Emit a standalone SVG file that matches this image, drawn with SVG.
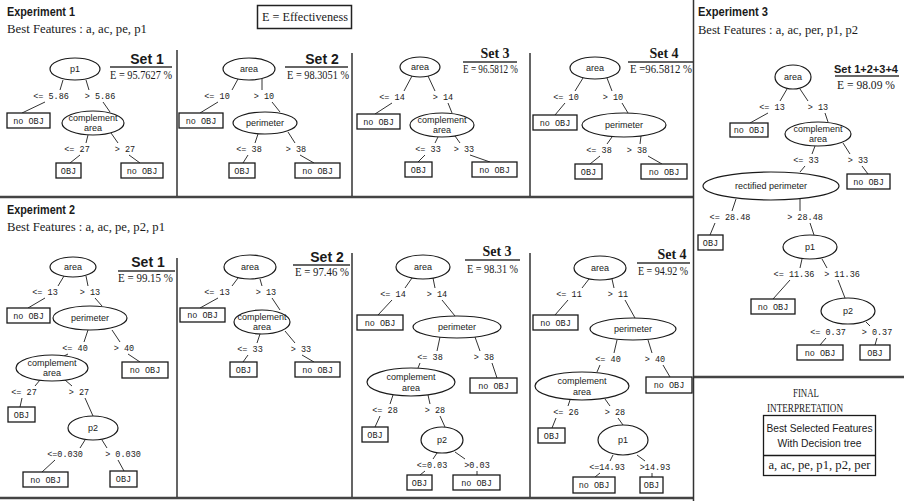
<svg xmlns="http://www.w3.org/2000/svg" width="904" height="501" viewBox="0 0 904 501">
<style>
text{fill:#1a1a1a}
.ttl{font-family:"Liberation Sans",Arial,sans-serif;font-weight:bold;font-size:13px}
.bf{font-family:"Liberation Serif","Times New Roman",serif;font-size:13px}
.set{font-family:"Liberation Sans",Arial,sans-serif;font-weight:bold;font-size:14px;text-anchor:middle}
.sets{font-family:"Liberation Serif","Times New Roman",serif;font-weight:bold;font-size:14px;text-anchor:middle}
.ev{font-family:"Liberation Serif","Times New Roman",serif;font-size:12px}
.lb{font-family:"Liberation Mono","DejaVu Sans Mono",monospace;font-size:8.5px;text-anchor:middle}
.nt{font-family:"Liberation Sans",Arial,sans-serif;font-size:9px;text-anchor:middle}
.bx{fill:#fff;stroke:#1a1a1a;stroke-width:1.3}
.el{fill:#fff;stroke:#1a1a1a;stroke-width:1.2}
.cn{fill:none;stroke:#333;stroke-width:1}
.fr{stroke:#333;stroke-width:1.5;fill:none}
.fr2{stroke:#444;stroke-width:2.5;fill:none}
.fin{font-family:"Liberation Serif","Times New Roman",serif;font-size:12px;text-anchor:middle}
.fs{font-family:"Liberation Sans",Arial,sans-serif;font-size:11px;text-anchor:middle}
</style>
<rect width="904" height="501" fill="#fff"/>

<g id="frames">
<path class="fr2" d="M0,197H693M0,498H693M693,377H904"/>
<path class="fr" d="M693.5,0V501"/>
<path class="fr" d="M177,50V196M352,53V196M530,53V196M177,258V497M352,253V497M530,253V497"/>
</g>

<g id="headers">
<text class="ttl" x="7" y="16" textLength="68" lengthAdjust="spacingAndGlyphs">Experiment 1</text>
<text class="bf" x="7" y="33" textLength="140" lengthAdjust="spacingAndGlyphs">Best Features : a, ac, pe, p1</text>
<text class="ttl" x="7" y="214" textLength="68" lengthAdjust="spacingAndGlyphs">Experiment 2</text>
<text class="bf" x="7" y="231" textLength="158" lengthAdjust="spacingAndGlyphs">Best Features : a, ac, pe, p2, p1</text>
<text class="ttl" x="698" y="16" textLength="70" lengthAdjust="spacingAndGlyphs">Experiment 3</text>
<text class="bf" x="698" y="34" textLength="160" lengthAdjust="spacingAndGlyphs">Best Features : a, ac, per, p1, p2</text>
<g id="legend">
<rect x="257.5" y="5.5" width="94" height="23" fill="#fff" stroke="#222" stroke-width="1.5"/>
<text class="ev" x="262" y="21" textLength="86" lengthAdjust="spacingAndGlyphs">E = Effectiveness</text>
</g>
</g>

<g id="sets">
<text class="set" x="147" y="64">Set 1</text><path class="fr" d="M110,67H172"/><text class="ev" x="110" y="79" textLength="62" lengthAdjust="spacingAndGlyphs">E = 95.7627 %</text>
<text class="set" x="322" y="64">Set 2</text><path class="fr" d="M285,67H348"/><text class="ev" x="287" y="79" textLength="62" lengthAdjust="spacingAndGlyphs">E = 98.3051 %</text>
<text class="sets" x="495" y="58">Set 3</text><path class="fr" d="M463,62H517"/><text class="ev" x="463" y="73" font-size="11" textLength="55" lengthAdjust="spacingAndGlyphs">E = 96.5812 %</text>
<text class="sets" x="664" y="58">Set 4</text><path class="fr" d="M628,62H693"/><text class="ev" x="630" y="73" font-size="11" textLength="62" lengthAdjust="spacingAndGlyphs">E =96.5812 %</text>
<text class="set" x="866" y="73" style="font-size:11px">Set 1+2+3+4</text><path class="fr" d="M835,76H899"/><text class="ev" x="837" y="89" textLength="58" lengthAdjust="spacingAndGlyphs">E = 98.09 %</text>
<text class="set" x="148" y="267">Set 1</text><path class="fr" d="M118,271H175"/><text class="ev" x="118" y="282" textLength="55" lengthAdjust="spacingAndGlyphs">E = 99.15 %</text>
<text class="set" x="327" y="262">Set 2</text><path class="fr" d="M293,265H350"/><text class="ev" x="295" y="276" textLength="54" lengthAdjust="spacingAndGlyphs">E = 97.46 %</text>
<text class="sets" x="497" y="256">Set 3</text><path class="fr" d="M465,260H520"/><text class="ev" x="467" y="273" textLength="51" lengthAdjust="spacingAndGlyphs">E = 98.31 %</text>
<text class="sets" x="672" y="259">Set 4</text><path class="fr" d="M637,263H690"/><text class="ev" x="638" y="275" textLength="50" lengthAdjust="spacingAndGlyphs">E = 94.92 %</text>
</g>

<g id="connectors">
<path class="cn" d="M63,80L60,90M45,102L22,113M86,80L89,90M103,102L110,112M88,135L86,143M80,155L70,163M111,133L118,143M129,155L140,163"/>
<path class="cn" d="M238,79L232,90M218,102L200,113M262,79L262,90M272,102L280,112M258,134L255,143M248,155L243,163M288,132L295,143M300,155L314,163"/>
<path class="cn" d="M412,76L404,91M392,103L375,114M428,76L435,91M448,103L452,113M438,137L435,143M425,155L418,162M455,136L460,143M470,155L490,162"/>
<path class="cn" d="M583,78L575,91M565,103L555,115M607,78L612,91M622,103L628,113M612,137L607,144M600,156L590,164M641,136L640,144M648,156L662,164"/>
<path class="cn" d="M787,89L780,101M768,113L750,123M800,89L808,101M825,113L828,122M815,146L812,154M805,166L800,172M843,143L850,154M862,166L868,174M736,199L732,211M715,223L710,235M800,199L800,211M810,223L814,235M802,259L800,268M790,280L773,299M822,259L827,268M838,280L845,298M826,338L820,345M866,322L870,326M877,338L875,345"/>
<path class="cn" d="M64,276L58,286M45,298L28,308M86,276L88,286M95,298L102,306M88,330L84,342M68,354L64,356M112,330L120,342M128,354L140,362M40,380L35,386M22,398L20,407M65,380L72,386M85,398L93,416M85,440L80,448M55,460L42,472M102,440L107,448M118,460L124,471"/>
<path class="cn" d="M238,278L232,286M218,298L200,308M260,279L262,286M272,298L280,310M260,334L257,343M248,355L243,362M285,331L295,343M302,355L314,362"/>
<path class="cn" d="M412,278L405,288M392,300L378,315M433,278L435,288M442,300L455,316M440,337L437,351M420,363L418,368M475,337L480,351M492,363L497,378M393,395L390,404M380,416L375,427M428,395L430,404M440,416L445,427M437,453L433,459M425,471L420,475M455,452L465,459M477,471L477,475"/>
<path class="cn" d="M589,279L582,288M568,300L555,315M612,279L614,288M625,300L635,318M617,340L614,353M600,365L597,372M648,340L652,353M663,365L670,377M570,400L568,406M556,418L552,428M605,399L610,406M618,418L623,425M613,455L610,461M600,473L595,477M637,455L645,461M652,473L652,477"/>
<text class="lb" x="51" y="99">&lt;= 5.86</text><text class="lb" x="100" y="99">&gt; 5.86</text>
<text class="lb" x="77" y="152">&lt;= 27</text><text class="lb" x="125" y="152">&gt; 27</text>
<text class="lb" x="217" y="99">&lt;= 10</text><text class="lb" x="264" y="99">&gt; 10</text>
<text class="lb" x="249" y="152">&lt;= 38</text><text class="lb" x="296" y="152">&gt; 38</text>
<text class="lb" x="392" y="100">&lt;= 14</text><text class="lb" x="443" y="100">&gt; 14</text>
<text class="lb" x="428" y="152">&lt;= 33</text><text class="lb" x="464" y="152">&gt; 33</text>
<text class="lb" x="566" y="100">&lt;= 10</text><text class="lb" x="613" y="100">&gt; 10</text>
<text class="lb" x="599" y="153">&lt;= 38</text><text class="lb" x="637" y="153">&gt; 38</text>
<text class="lb" x="772" y="110">&lt;= 13</text><text class="lb" x="818" y="110">&gt; 13</text>
<text class="lb" x="806" y="163">&lt;= 33</text><text class="lb" x="858" y="163">&gt; 33</text>
<text class="lb" x="730" y="220">&lt;= 28.48</text><text class="lb" x="805" y="220">&gt; 28.48</text>
<text class="lb" x="794" y="277">&lt;= 11.36</text><text class="lb" x="842" y="277">&gt; 11.36</text>
<text class="lb" x="828" y="335">&lt;= 0.37</text><text class="lb" x="877" y="335">&gt; 0.37</text>
<text class="lb" x="45" y="295">&lt;= 13</text><text class="lb" x="90" y="295">&gt; 13</text>
<text class="lb" x="75" y="351">&lt;= 40</text><text class="lb" x="124" y="351">&gt; 40</text>
<text class="lb" x="24" y="395">&lt;= 27</text><text class="lb" x="79" y="395">&gt; 27</text>
<text class="lb" x="65" y="457">&lt;=0.030</text><text class="lb" x="123" y="457">&gt; 0.030</text>
<text class="lb" x="217" y="295">&lt;= 13</text><text class="lb" x="266" y="295">&gt; 13</text>
<text class="lb" x="250" y="352">&lt;= 33</text><text class="lb" x="301" y="352">&gt; 33</text>
<text class="lb" x="393" y="297">&lt;= 14</text><text class="lb" x="437" y="297">&gt; 14</text>
<text class="lb" x="430" y="360">&lt;= 38</text><text class="lb" x="484" y="360">&gt; 38</text>
<text class="lb" x="385" y="413">&lt;= 28</text><text class="lb" x="435" y="413">&gt; 28</text>
<text class="lb" x="432" y="468">&lt;=0.03</text><text class="lb" x="477" y="468">&gt;0.03</text>
<text class="lb" x="569" y="297">&lt;= 11</text><text class="lb" x="618" y="297">&gt; 11</text>
<text class="lb" x="608" y="362">&lt;= 40</text><text class="lb" x="655" y="362">&gt; 40</text>
<text class="lb" x="566" y="415">&lt;= 26</text><text class="lb" x="615" y="415">&gt; 28</text>
<text class="lb" x="607" y="470">&lt;=14.93</text><text class="lb" x="655" y="470">&gt;14.93</text>
</g>

<!-- Experiment 1 Set 1 -->
<g id="e1s1-p1"><ellipse class="el" cx="75" cy="69" rx="25" ry="11"/><text class="nt" x="75" y="72">p1</text></g>
<g id="e1s1-leaf1"><rect class="bx" x="7" y="113" width="43" height="15"/><text class="lb" x="28.5" y="124">no OBJ</text></g>
<g id="e1s1-ca"><ellipse class="el" cx="93" cy="123" rx="31" ry="12"/><text class="nt" x="93" y="121">complement</text><text class="nt" x="93" y="131">area</text></g>
<g id="e1s1-leaf2"><rect class="bx" x="56" y="163" width="25" height="15"/><text class="lb" x="68.5" y="174">OBJ</text></g>
<g id="e1s1-leaf3"><rect class="bx" x="121" y="163" width="42" height="15"/><text class="lb" x="142" y="174">no OBJ</text></g>

<!-- Experiment 1 Set 2 -->
<g id="e1s2-area"><ellipse class="el" cx="249" cy="69" rx="26" ry="11"/><text class="nt" x="249" y="72">area</text></g>
<g id="e1s2-leaf1"><rect class="bx" x="179" y="113" width="44" height="15"/><text class="lb" x="201" y="124">no OBJ</text></g>
<g id="e1s2-per"><ellipse class="el" cx="265" cy="123" rx="32" ry="11"/><text class="nt" x="265" y="126">perimeter</text></g>
<g id="e1s2-leaf2"><rect class="bx" x="229" y="163" width="26" height="15"/><text class="lb" x="242" y="174">OBJ</text></g>
<g id="e1s2-leaf3"><rect class="bx" x="295" y="163" width="45" height="15"/><text class="lb" x="317.5" y="174">no OBJ</text></g>

<!-- Experiment 1 Set 3 -->
<g id="e1s3-area"><ellipse class="el" cx="420" cy="67" rx="20" ry="10"/><text class="nt" x="420" y="70">area</text></g>
<g id="e1s3-leaf1"><rect class="bx" x="357" y="114" width="43" height="15"/><text class="lb" x="378.5" y="125">no OBJ</text></g>
<g id="e1s3-ca"><ellipse class="el" cx="442" cy="125" rx="32" ry="12"/><text class="nt" x="442" y="123">complement</text><text class="nt" x="442" y="133">area</text></g>
<g id="e1s3-leaf2"><rect class="bx" x="405" y="162" width="27" height="15"/><text class="lb" x="418.5" y="173">OBJ</text></g>
<g id="e1s3-leaf3"><rect class="bx" x="472" y="162" width="45" height="15"/><text class="lb" x="494.5" y="173">no OBJ</text></g>

<!-- Experiment 1 Set 4 -->
<g id="e1s4-area"><ellipse class="el" cx="595" cy="68" rx="25" ry="11"/><text class="nt" x="595" y="71">area</text></g>
<g id="e1s4-leaf1"><rect class="bx" x="533" y="115" width="44" height="15"/><text class="lb" x="555" y="126">no OBJ</text></g>
<g id="e1s4-per"><ellipse class="el" cx="624" cy="125" rx="42" ry="12"/><text class="nt" x="624" y="128">perimeter</text></g>
<g id="e1s4-leaf2"><rect class="bx" x="575" y="164" width="27" height="15"/><text class="lb" x="588.5" y="175">OBJ</text></g>
<g id="e1s4-leaf3"><rect class="bx" x="641" y="164" width="46" height="15"/><text class="lb" x="664" y="175">no OBJ</text></g>

<!-- Experiment 3 -->
<g id="e3-area"><ellipse class="el" cx="793" cy="77" rx="18" ry="12"/><text class="nt" x="793" y="80">area</text></g>
<g id="e3-leaf1"><rect class="bx" x="730" y="123" width="38" height="14"/><text class="lb" x="749" y="133">no OBJ</text></g>
<g id="e3-ca"><ellipse class="el" cx="818" cy="134" rx="33" ry="12"/><text class="nt" x="818" y="132">complement</text><text class="nt" x="818" y="142">area</text></g>
<g id="e3-leaf2"><rect class="bx" x="847" y="174" width="43" height="15"/><text class="lb" x="868.5" y="185">no OBJ</text></g>
<g id="e3-rp"><ellipse class="el" cx="771" cy="186" rx="68" ry="14"/><text class="nt" x="771" y="189">rectified perimeter</text></g>
<g id="e3-leaf3"><rect class="bx" x="698" y="235" width="25" height="15"/><text class="lb" x="710.5" y="246">OBJ</text></g>
<g id="e3-p1"><ellipse class="el" cx="810" cy="247" rx="27" ry="12"/><text class="nt" x="810" y="250">p1</text></g>
<g id="e3-leaf4"><rect class="bx" x="751" y="299" width="44" height="15"/><text class="lb" x="773" y="310">no OBJ</text></g>
<g id="e3-p2"><ellipse class="el" cx="848" cy="311" rx="27" ry="13"/><text class="nt" x="848" y="314">p2</text></g>
<g id="e3-leaf5"><rect class="bx" x="797" y="345" width="46" height="15"/><text class="lb" x="820" y="356">no OBJ</text></g>
<g id="e3-leaf6"><rect class="bx" x="860" y="345" width="30" height="15"/><text class="lb" x="875" y="356">OBJ</text></g>

<!-- Experiment 2 Set 1 -->
<g id="e2s1-area"><ellipse class="el" cx="73" cy="267" rx="23" ry="10"/><text class="nt" x="73" y="270">area</text></g>
<g id="e2s1-leaf1"><rect class="bx" x="7" y="308" width="43" height="15"/><text class="lb" x="28.5" y="319">no OBJ</text></g>
<g id="e2s1-per"><ellipse class="el" cx="90" cy="318" rx="37" ry="12"/><text class="nt" x="90" y="321">perimeter</text></g>
<g id="e2s1-leaf2"><rect class="bx" x="122" y="362" width="46" height="16"/><text class="lb" x="145" y="373">no OBJ</text></g>
<g id="e2s1-ca"><ellipse class="el" cx="52" cy="368" rx="36" ry="13"/><text class="nt" x="52" y="366">complement</text><text class="nt" x="52" y="376">area</text></g>
<g id="e2s1-leaf3"><rect class="bx" x="8" y="407" width="27" height="15"/><text class="lb" x="21.5" y="418">OBJ</text></g>
<g id="e2s1-p2"><ellipse class="el" cx="93" cy="428" rx="25" ry="12"/><text class="nt" x="93" y="431">p2</text></g>
<g id="e2s1-leaf4"><rect class="bx" x="23" y="472" width="45" height="15"/><text class="lb" x="45.5" y="483">no OBJ</text></g>
<g id="e2s1-leaf5"><rect class="bx" x="110" y="471" width="27" height="16"/><text class="lb" x="123.5" y="482">OBJ</text></g>

<!-- Experiment 2 Set 2 -->
<g id="e2s2-area"><ellipse class="el" cx="250" cy="267" rx="26" ry="12"/><text class="nt" x="250" y="270">area</text></g>
<g id="e2s2-leaf1"><rect class="bx" x="180" y="308" width="45" height="14"/><text class="lb" x="202.5" y="318">no OBJ</text></g>
<g id="e2s2-ca"><ellipse class="el" cx="262" cy="322" rx="28" ry="12"/><text class="nt" x="262" y="320">complement</text><text class="nt" x="262" y="330">area</text></g>
<g id="e2s2-leaf2"><rect class="bx" x="230" y="362" width="27" height="15"/><text class="lb" x="243.5" y="373">OBJ</text></g>
<g id="e2s2-leaf3"><rect class="bx" x="295" y="362" width="45" height="15"/><text class="lb" x="317.5" y="373">no OBJ</text></g>

<!-- Experiment 2 Set 3 -->
<g id="e2s3-area"><ellipse class="el" cx="423" cy="267" rx="27" ry="12"/><text class="nt" x="423" y="270">area</text></g>
<g id="e2s3-leaf1"><rect class="bx" x="357" y="315" width="46" height="15"/><text class="lb" x="380" y="326">no OBJ</text></g>
<g id="e2s3-per"><ellipse class="el" cx="457" cy="327" rx="44" ry="11"/><text class="nt" x="457" y="330">perimeter</text></g>
<g id="e2s3-ca"><ellipse class="el" cx="411" cy="382" rx="44" ry="14"/><text class="nt" x="411" y="380">complement</text><text class="nt" x="411" y="391">area</text></g>
<g id="e2s3-leaf2"><rect class="bx" x="470" y="378" width="47" height="15"/><text class="lb" x="493.5" y="389">no OBJ</text></g>
<g id="e2s3-leaf3"><rect class="bx" x="362" y="427" width="26" height="15"/><text class="lb" x="375" y="438">OBJ</text></g>
<g id="e2s3-p2"><ellipse class="el" cx="442" cy="440" rx="21" ry="13"/><text class="nt" x="442" y="443">p2</text></g>
<g id="e2s3-leaf4"><rect class="bx" x="407" y="475" width="25" height="15"/><text class="lb" x="419.5" y="486">OBJ</text></g>
<g id="e2s3-leaf5"><rect class="bx" x="453" y="475" width="47" height="15"/><text class="lb" x="476.5" y="486">no OBJ</text></g>

<!-- Experiment 2 Set 4 -->
<g id="e2s4-area"><ellipse class="el" cx="600" cy="268" rx="26" ry="12"/><text class="nt" x="600" y="271">area</text></g>
<g id="e2s4-leaf1"><rect class="bx" x="533" y="315" width="45" height="15"/><text class="lb" x="555.5" y="326">no OBJ</text></g>
<g id="e2s4-per"><ellipse class="el" cx="633" cy="329" rx="43" ry="11"/><text class="nt" x="633" y="332">perimeter</text></g>
<g id="e2s4-ca"><ellipse class="el" cx="582" cy="386" rx="47" ry="14"/><text class="nt" x="582" y="384">complement</text><text class="nt" x="582" y="395">area</text></g>
<g id="e2s4-leaf2"><rect class="bx" x="646" y="377" width="46" height="16"/><text class="lb" x="669" y="388">no OBJ</text></g>
<g id="e2s4-leaf3"><rect class="bx" x="538" y="428" width="27" height="15"/><text class="lb" x="551.5" y="439">OBJ</text></g>
<g id="e2s4-p1"><ellipse class="el" cx="623" cy="440" rx="25" ry="15"/><text class="nt" x="623" y="443">p1</text></g>
<g id="e2s4-leaf4"><rect class="bx" x="573" y="477" width="42" height="16"/><text class="lb" x="594" y="488">no OBJ</text></g>
<g id="e2s4-leaf5"><rect class="bx" x="640" y="477" width="23" height="16"/><text class="lb" x="651.5" y="488">OBJ</text></g>

<!-- Final interpretation -->
<g id="final">
<text class="fin" x="806" y="397" textLength="26" lengthAdjust="spacingAndGlyphs">FINAL</text>
<text class="fin" x="805" y="412" textLength="76" lengthAdjust="spacingAndGlyphs">INTERPRETATION</text>
<rect x="763.5" y="415.5" width="112" height="60" fill="#fff" stroke="#1a1a1a" stroke-width="1.3"/>
<path d="M763.5,455.5H875.5" stroke="#1a1a1a" stroke-width="1.3"/>
<text class="fs" x="819.5" y="432" textLength="106" lengthAdjust="spacingAndGlyphs">Best Selected Features</text>
<text class="fs" x="819.5" y="447" textLength="84" lengthAdjust="spacingAndGlyphs">With Decision tree</text>
<text class="fin" x="819.5" y="469" font-size="13" textLength="102" lengthAdjust="spacingAndGlyphs">a, ac, pe, p1, p2, per</text>
</g>
</svg>
